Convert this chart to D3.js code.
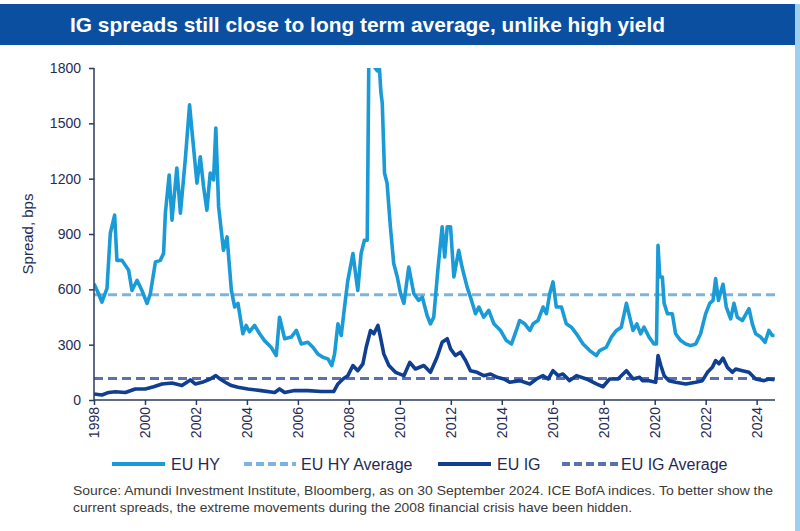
<!DOCTYPE html>
<html><head><meta charset="utf-8">
<script src="https://cdn.jsdelivr.net/npm/d3@7"></script>
<style>
body{margin:0;background:#fff;}
svg{display:block;font-family:Arial,"Liberation Sans",sans-serif;}
</style></head>
<body>
<svg id="chart" width="800" height="531"></svg>
<script>
const title = "IG spreads still close to long term average, unlike high yield";
const yAxisTitle = "Spread, bps";
const yTicks = [0,300,600,900,1200,1500,1800];
const xTicks = [1998,2000,2002,2004,2006,2008,2010,2012,2014,2016,2018,2020,2022,2024];
const legendLabels = ["EU HY","EU HY Average","EU IG","EU IG Average"];
const footnote = ["Source: Amundi Investment Institute, Bloomberg, as on 30 September 2024. ICE BofA indices. To better show the",
  "current spreads, the extreme movements during the 2008 financial crisis have been hidden."];

const hyAverage = 570;
const igAverage = 117;

const hyDates = [1998.0,1998.18,1998.31,1998.51,1998.64,1998.81,1998.9,1999.1,1999.36,1999.49,1999.69,1999.88,2000.08,2000.21,2000.41,2000.6,2000.73,2000.8,2000.95,2001.06,2001.25,2001.39,2001.58,2001.75,2001.84,2002.04,2002.17,2002.3,2002.43,2002.56,2002.69,2002.78,2002.89,2003.08,2003.22,
 2003.39,2003.52,2003.65,2003.84,2003.97,2004.1,2004.3,2004.5,2004.69,2004.95,2005.15,2005.28,2005.48,2005.74,2005.94,2006.13,2006.39,2006.59,2006.78,2006.98,2007.18,2007.33,2007.44,2007.57,2007.7,2007.83,2007.96,2008.16,2008.35,2008.48,2008.61,
 2008.72,2008.8,2008.92,2009.03,2009.12,2009.2,2009.26,2009.31,2009.4,2009.5,2009.63,2009.76,2009.9,2010.03,2010.16,2010.35,2010.55,2010.74,2010.88,2011.07,2011.2,2011.33,2011.49,2011.66,2011.76,2011.86,2011.99,2012.12,2012.31,2012.44,2012.64,2012.77,2012.97,2013.1,2013.29,2013.49,2013.69,2013.95,
 2014.18,2014.38,2014.57,2014.7,2014.9,2015.1,2015.23,2015.42,2015.62,2015.75,2015.88,2016.01,2016.14,2016.34,2016.53,2016.73,2016.93,2017.19,2017.45,2017.71,2017.84,2018.1,2018.3,2018.5,2018.69,2018.89,2019.02,2019.15,
 2019.3,2019.45,2019.58,2019.78,2019.97,2020.07,2020.13,2020.2,2020.3,2020.37,2020.5,2020.69,2020.82,2021.02,2021.22,2021.41,2021.61,2021.8,2022.0,2022.16,2022.29,2022.39,2022.5,2022.68,2022.81,2022.98,2023.11,2023.24,2023.44,2023.7,2023.83,2023.96,2024.16,2024.33,2024.48,2024.61,2024.7];
const hyValues = [630,576,531,605,904,1002,757,757,703,594,649,594,524,576,748,757,795,1013,1220,975,1258,1013,1301,1600,1464,1176,1319,1156,1029,1230,1193,1475,1047,812,884,
 594,504,524,359,404,370,404,359,322,286,241,449,332,341,377,304,313,286,250,232,223,187,250,413,350,504,649,794,594,794,866,
 866,2100,2300,1800,1785,1795,1664,1610,1229,1175,939,740,667,576,524,721,576,540,558,458,413,449,703,939,775,939,939,667,812,721,612,558,468,504,449,486,413,377,
 322,304,377,431,413,377,413,431,504,468,576,640,504,504,413,395,359,304,268,241,268,286,341,377,395,524,449,377,
 413,359,395,341,304,304,839,667,667,524,468,468,359,322,304,295,304,359,468,524,540,658,540,627,504,440,524,449,431,495,413,359,341,313,377,350,350];

const igDates = [1998.0,1998.31,1998.58,1998.84,1999.23,1999.62,2000.01,2000.34,2000.67,2001.06,2001.45,2001.78,2001.97,2002.24,2002.56,2002.78,2002.95,2003.15,2003.39,2003.65,2004.04,2004.56,2005.09,2005.28,2005.48,2005.87,2006.39,2006.92,2007.41,2007.57,2007.77,2007.96,2008.16,2008.35,2008.55,2008.68,
 2008.85,2008.98,2009.14,2009.24,2009.37,2009.57,2009.83,2010.16,2010.39,2010.61,2010.94,2011.2,2011.46,2011.66,2011.86,2011.99,2012.18,2012.38,2012.58,2012.77,2013.03,2013.29,2013.56,2013.82,2014.08,
 2014.31,2014.7,2015.1,2015.36,2015.62,2015.82,2016.01,2016.21,2016.4,2016.66,2016.93,2017.32,2017.71,2017.97,2018.23,2018.56,2018.89,2019.15,2019.41,
 2019.52,2019.78,2020.04,2020.13,2020.24,2020.37,2020.56,2020.82,2021.22,2021.61,2021.87,2022.07,2022.26,2022.39,2022.52,2022.68,2022.85,2023.05,2023.18,2023.44,2023.7,2023.96,2024.29,2024.48,2024.7];
const igValues = [33,27,41,45,41,60,60,72,87,92,78,109,87,96,114,132,114,96,78,69,60,51,41,60,41,51,51,46,47,87,114,132,187,159,196,286,
 377,359,404,341,250,187,150,132,204,168,187,150,232,313,332,277,241,259,214,159,150,132,141,123,114,
 96,105,87,114,132,114,159,132,141,105,132,114,87,72,114,114,159,114,123,
 105,105,96,241,187,132,105,96,87,96,105,150,177,214,196,227,177,150,168,159,150,114,105,114,110];

const colors = {hy:"#1a9bd7", hyAvg:"#7db3e0", ig:"#103f92", igAvg:"#5c6fb3", axis:"#2a3a5f", text:"#1f2b55"};

const svg = d3.select("#chart");
const W = 800, H = 531;
const plot = {left:94, right:775, top:68, bottom:400};

// title bar
svg.append("rect").attr("x",0).attr("y",4).attr("width",795).attr("height",41).attr("fill","#0b4fa0");
svg.append("rect").attr("x",795).attr("y",4).attr("width",5).attr("height",H-4).attr("fill","#9ccff0");
svg.append("text").attr("x",70).attr("y",32).attr("fill","#fff").attr("font-weight","bold")
  .attr("font-size",21).attr("textLength",595).attr("lengthAdjust","spacingAndGlyphs").text(title);

const x = d3.scaleLinear().domain([1998, 2024.72]).range([plot.left, plot.right]);
const y = d3.scaleLinear().domain([0, 1800]).range([plot.bottom, plot.top]);

svg.append("defs").append("clipPath").attr("id","clip").append("rect")
  .attr("x",plot.left).attr("y",plot.top).attr("width",plot.right-plot.left+4).attr("height",plot.bottom-plot.top);

const g = svg.append("g").attr("clip-path","url(#clip)");
const line = d3.line().x(d=>x(d[0])).y(d=>y(d[1]));

g.append("line").attr("x1",x(1998)).attr("x2",x(2024.72)).attr("y1",y(hyAverage)).attr("y2",y(hyAverage))
  .attr("stroke",colors.hyAvg).attr("stroke-width",3).attr("stroke-dasharray","9,5");
g.append("line").attr("x1",x(1998)).attr("x2",x(2024.72)).attr("y1",y(igAverage)).attr("y2",y(igAverage))
  .attr("stroke",colors.igAvg).attr("stroke-width",3).attr("stroke-dasharray","9,5");

g.append("path").datum(hyDates.map((d,i)=>[d,hyValues[i]])).attr("d",line)
  .attr("fill","none").attr("stroke",colors.hy).attr("stroke-width",3.6).attr("stroke-linejoin","round");
g.append("path").datum(igDates.map((d,i)=>[d,igValues[i]])).attr("d",line)
  .attr("fill","none").attr("stroke",colors.ig).attr("stroke-width",3.6).attr("stroke-linejoin","round");

// axes
const yAxis = svg.append("g").attr("transform",`translate(${plot.left},0)`)
  .call(d3.axisLeft(y).tickValues(yTicks).tickSize(5).tickPadding(8).tickFormat(d3.format("d")));
const xAxis = svg.append("g").attr("transform",`translate(0,${plot.bottom})`)
  .call(d3.axisBottom(x).tickValues(xTicks).tickSize(5).tickFormat(d3.format("d")));
[yAxis,xAxis].forEach(a=>{
  a.selectAll("path,line").attr("stroke",colors.axis).attr("stroke-width",1.5);
  a.selectAll("text").attr("fill",colors.text).attr("font-size",14).attr("font-family","Arial,'Liberation Sans',sans-serif");
});
xAxis.select(".domain").attr("d",`M${plot.left},0H${plot.right}`);
yAxis.select(".domain").attr("d",`M0,${plot.top}V${plot.bottom}`);
xAxis.selectAll(".tick text").attr("transform","rotate(-90)").attr("text-anchor","end")
  .attr("x",-7).attr("y",0).attr("dy","0.35em");

svg.append("text").attr("transform","translate(33,234) rotate(-90)").attr("text-anchor","middle")
  .attr("fill",colors.text).attr("font-size",15).text(yAxisTitle);

// legend
const legendItems = [
  {label:legendLabels[0], color:colors.hy, dash:null, x1:112, x2:165, tx:171},
  {label:legendLabels[1], color:colors.hyAvg, dash:"8,4", x1:244, x2:296, tx:301},
  {label:legendLabels[2], color:colors.ig, dash:null, x1:438, x2:491, tx:497},
  {label:legendLabels[3], color:colors.igAvg, dash:"8,4", x1:562, x2:618, tx:621}
];
const ly = 464;
legendItems.forEach(it=>{
  svg.append("line").attr("x1",it.x1).attr("x2",it.x2).attr("y1",ly).attr("y2",ly)
    .attr("stroke",it.color).attr("stroke-width",4).attr("stroke-dasharray",it.dash);
  svg.append("text").attr("x",it.tx).attr("y",ly).attr("dy","0.35em").attr("font-size",16)
    .attr("fill",colors.text).text(it.label);
});

// footnote
svg.append("text").attr("x",73).attr("y",495).attr("font-size",13).attr("fill","#3a3a3a")
  .attr("textLength",700).attr("lengthAdjust","spacingAndGlyphs").text(footnote[0]);
svg.append("text").attr("x",73).attr("y",512).attr("font-size",13).attr("fill","#3a3a3a")
  .attr("textLength",559).attr("lengthAdjust","spacingAndGlyphs").text(footnote[1]);
</script>
</body></html>
